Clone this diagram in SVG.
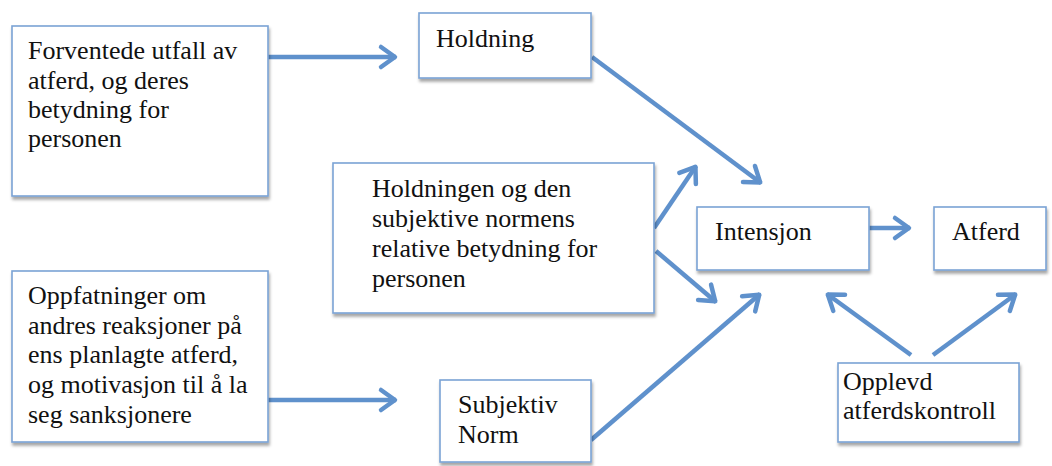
<svg xmlns="http://www.w3.org/2000/svg" width="1052" height="466" viewBox="0 0 1052 466">
<style>
.box{fill:#fff;stroke:#7BA3D5;stroke-width:1.6;filter:url(#sh)}
.t{font-family:"Liberation Serif","Times New Roman",serif;font-size:26px;fill:#111}
.c{fill:none;stroke:#5F91CC;stroke-width:4.5;marker-end:url(#ah)}
</style>
<defs>
<filter id="sh" x="-10%" y="-10%" width="130%" height="140%">
<feDropShadow dx="1" dy="3" stdDeviation="1.6" flood-color="#000" flood-opacity="0.35"/>
</filter>
<marker id="ah" markerUnits="userSpaceOnUse" markerWidth="40" markerHeight="40" viewBox="-20 -20 40 40" refX="0" refY="0" orient="auto">
<path d="M-15,-10 L-1,0 L-15,10" fill="none" stroke="#5F91CC" stroke-width="4.5" stroke-linejoin="round" stroke-linecap="round"/>
</marker>
</defs>
<rect width="1052" height="466" fill="#fff"/>
<g id="connectors">
<path class="c" d="M268,57 L396,57"/>
<path class="c" d="M268,400 L396,400"/>
<path class="c" d="M592,57 L761,183"/>
<path class="c" d="M654,228 L696,166"/>
<path class="c" d="M656,251 L716,302"/>
<path class="c" d="M591,440 L760,294"/>
<path class="c" d="M869,228 L910,228"/>
<path class="c" d="M911,355 L827,294"/>
<path class="c" d="M933,355 L1016,294"/>
</g>
<g id="forventede">
<rect class="box" x="12" y="26" width="256" height="170"/>
<text class="t" x="28" y="59">Forventede utfall av</text>
<text class="t" x="28" y="89">atferd, og deres</text>
<text class="t" x="28" y="118">betydning for</text>
<text class="t" x="28" y="147">personen</text>
</g>
<g id="oppfatninger">
<rect class="box" x="12" y="271" width="256" height="171"/>
<text class="t" x="28" y="304">Oppfatninger om</text>
<text class="t" x="28" y="334">andres reaksjoner på</text>
<text class="t" x="28" y="363">ens planlagte atferd,</text>
<text class="t" x="28" y="393">og motivasjon til å la</text>
<text class="t" x="28" y="423">seg sanksjonere</text>
</g>
<g id="holdning">
<rect class="box" x="419" y="13" width="172" height="65"/>
<text class="t" x="436" y="47">Holdning</text>
</g>
<g id="holdningen">
<rect class="box" x="333" y="163" width="321" height="150"/>
<text class="t" x="372" y="197">Holdningen og den</text>
<text class="t" x="372" y="227">subjektive normens</text>
<text class="t" x="372" y="257">relative betydning for</text>
<text class="t" x="372" y="287">personen</text>
</g>
<g id="subjektiv">
<rect class="box" x="440" y="380" width="151" height="82"/>
<text class="t" x="458" y="413">Subjektiv</text>
<text class="t" x="458" y="443">Norm</text>
</g>
<g id="intensjon">
<rect class="box" x="697" y="207" width="172" height="63"/>
<text class="t" x="715" y="240">Intensjon</text>
</g>
<g id="atferd">
<rect class="box" x="934" y="207" width="112" height="63"/>
<text class="t" x="952" y="240">Atferd</text>
</g>
<g id="opplevd">
<rect class="box" x="838" y="363" width="181" height="79"/>
<text class="t" x="843" y="390">Opplevd</text>
<text class="t" x="843" y="419">atferdskontroll</text>
</g>
</svg>
